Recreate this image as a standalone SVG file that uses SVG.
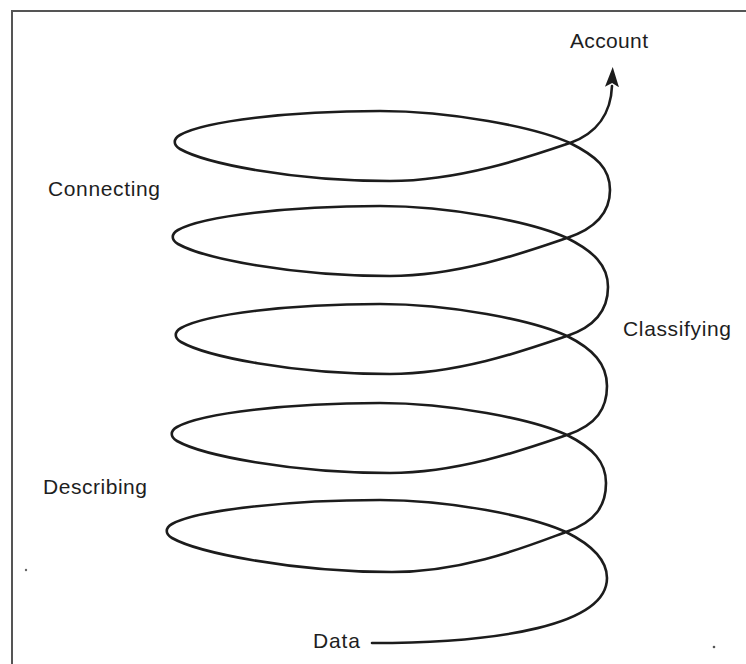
<svg xmlns="http://www.w3.org/2000/svg" width="746" height="664" viewBox="0 0 746 664">
  <style>
    .label { font-family: "Liberation Sans", Arial, sans-serif; font-size: 21px; fill: #1e1e1e; }
    .frame { fill: none; stroke: #555; stroke-width: 2; }
    .spiral { fill: none; stroke: #1c1c1c; stroke-width: 2.6; stroke-linecap: round; stroke-linejoin: round; }
  </style>
  <defs>
    <marker id="arrowhead" markerUnits="userSpaceOnUse" markerWidth="22" markerHeight="16" viewBox="0 0 22 16" refX="1" refY="8" orient="auto">
      <path d="M0,1 L20,8 L0,15 L4,8 Z" fill="#1c1c1c"/>
    </marker>
  </defs>

  <rect width="746" height="664" fill="#ffffff"/>
  <path class="frame" d="M12,664 L12,11 L746,11"/>

  <!-- helix of five loops rising from Data to Account -->
  <g id="connectors">
    <path id="spiral" class="spiral" marker-end="url(#arrowhead)" d="
      M372,643 C500,643 607,625 607,578 C607,560 592,545 566,532
      C531,516 450,500 380,500 C290,500 197,510 172,524 C165,528 165,534 172,538 C197,552 290,572 392,572 C465,572 528,546 566,532
      C596,522 606,505 606,483 C606,462 593,448 567,435
      C532,419 450,403 380,403 C290,403 202,413 177,427 C170,431 170,437 177,441 C202,455 290,473 390,473 C460,473 529,448 567,435
      C597,425 607,408 607,386 C607,364 593,349 567,336
      C532,320 450,304 380,304 C290,304 206,314 181,328 C174,332 174,338 181,342 C206,356 290,374 390,374 C460,374 529,349 567,336
      C597,326 608,309 608,287 C608,265 593,251 567,238
      C532,222 450,206 380,206 C290,206 203,216 178,230 C171,234 171,240 178,244 C203,258 290,276 390,276 C460,276 529,251 567,238
      C597,228 610,212 610,190 C610,168 596,156 570,143
      C535,127 450,111 380,111 C290,111 205,121 180,135 C173,139 173,145 180,149 C205,163 290,181 390,181 C460,181 532,156 570,143
      C598,133 611,112 612,86"/>
  </g>

  <g id="account"><text class="label" x="570" y="48" textLength="78">Account</text></g>
  <g id="connecting"><text class="label" x="48" y="196" textLength="112">Connecting</text></g>
  <g id="classifying"><text class="label" x="623" y="336" textLength="108">Classifying</text></g>
  <g id="describing"><text class="label" x="43" y="494" textLength="104">Describing</text></g>
  <g id="data"><text class="label" x="313" y="648" textLength="47">Data</text></g>

  <!-- specks -->
  <circle cx="26" cy="570" r="1.2" fill="#666"/>
  <circle cx="714" cy="647" r="1.3" fill="#555"/>
</svg>
